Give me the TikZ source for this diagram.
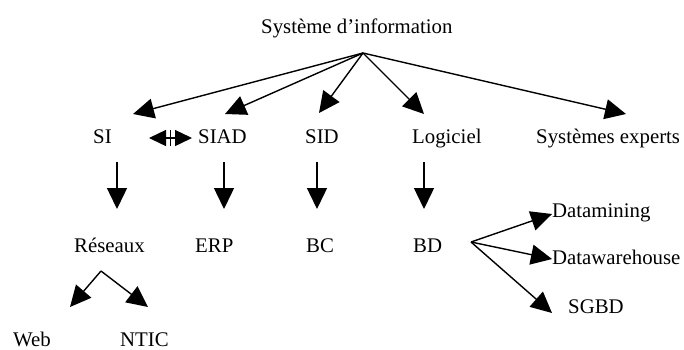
\documentclass[tikz,border=0pt]{standalone}
\usepackage{fontspec}
\setmainfont{Liberation Serif}
\usetikzlibrary{arrows.meta}
\begin{document}
\begin{tikzpicture}[x=1pt,y=-1pt,
  lbl/.style={anchor=base west,inner sep=0pt,font=\fontsize{20.8}{25}\selectfont},
  arr/.style={line width=1.4pt,-{Triangle[length=21pt,width=20pt]}},
  darr/.style={line width=1.4pt,-{Triangle[length=17pt,width=16pt]}}]
\useasboundingbox (0,0) rectangle (684,349);
% labels
\node[lbl] (si0) at (261,33) {Système d’information};
\node[lbl] (si) at (93,143) {SI};
\node[lbl] (siad) at (198,143) {SIAD};
\node[lbl] (sid) at (305,143) {SID};
\node[lbl] (logi) at (412,143) {Logiciel};
\node[lbl] (sexp) at (536,143) {Systèmes experts};
\node[lbl] (res) at (74,252) {Réseaux};
\node[lbl] (erp) at (195,252) {ERP};
\node[lbl] (bc) at (306,252) {BC};
\node[lbl] (bd) at (413,252) {BD};
\node[lbl] (web) at (13,346) {Web};
\node[lbl] (ntic) at (120,346) {NTIC};
\node[lbl] (dm) at (552,217) {Datamining};
\node[lbl] (dw) at (552,264) {Datawarehouse};
\node[lbl] (sgbd) at (568,313) {SGBD};
% connector end points
\coordinate (apex) at (363,53);
\coordinate (tSI) at (133,114);
\coordinate (tSIAD) at (225,114);
\coordinate (tSID) at (319,113);
\coordinate (tLog) at (424,114);
\coordinate (tSE) at (626,114);
\coordinate (v1s) at (117,162); \coordinate (v1e) at (117,209);
\coordinate (v2s) at (224,162); \coordinate (v2e) at (224,209);
\coordinate (v3s) at (317,162); \coordinate (v3e) at (317,209);
\coordinate (v4s) at (424,162); \coordinate (v4e) at (424,209);
\coordinate (rapex) at (101,271);
\coordinate (tWeb) at (70,307);
\coordinate (tNTIC) at (148,307);
\coordinate (bapex) at (471,242);
\coordinate (tDM) at (552,214);
\coordinate (tDW) at (552,259);
\coordinate (tSG) at (552,313);
\coordinate (dmid) at (170,138);
\coordinate (dl) at (149,138);
\coordinate (dr) at (192,138);
% arrows
\draw[arr] (apex) -- (tSI);
\draw[arr] (apex) -- (tSIAD);
\draw[arr] (apex) -- (tSID);
\draw[arr] (apex) -- (tLog);
\draw[arr] (apex) -- (tSE);
\draw[arr] (v1s) -- (v1e);
\draw[arr] (v2s) -- (v2e);
\draw[arr] (v3s) -- (v3e);
\draw[arr] (v4s) -- (v4e);
\draw[arr] (rapex) -- (tWeb);
\draw[arr] (rapex) -- (tNTIC);
\draw[arr] (bapex) -- (tDM);
\draw[arr] (bapex) -- (tDW);
\draw[arr] (bapex) -- (tSG);
\draw[darr] (dmid) -- (dl);
\draw[darr] (dmid) -- (dr);
\draw[line width=0.8pt] ([yshift=-8pt]dmid) -- ([yshift=8pt]dmid);
\end{tikzpicture}
\end{document}
